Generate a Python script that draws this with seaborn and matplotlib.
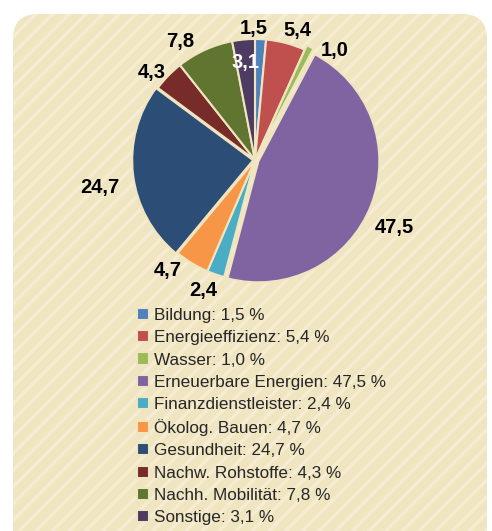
import matplotlib
matplotlib.use("Agg")
import numpy as np
import matplotlib.pyplot as plt
import seaborn as sns
from matplotlib.patches import FancyBboxPatch

# Daten
categories = ["Bildung", "Energieeffizienz", "Wasser", "Erneuerbare Energien",
              "Finanzdienstleister", "Ökolog. Bauen", "Gesundheit",
              "Nachw. Rohstoffe", "Nachh. Mobilität", "Sonstige"]
values = [1.5, 5.4, 1.0, 47.5, 2.4, 4.7, 24.7, 4.3, 7.8, 3.1]
value_labels = ["1,5", "5,4", "1,0", "47,5", "2,4", "4,7", "24,7", "4,3", "7,8", "3,1"]
colors = ["#4F81BD", "#C0504D", "#9BBB59", "#8064A2", "#4BACC6",
          "#F79646", "#2C4D75", "#772C2A", "#5F7530", "#4D3B62"]

# Layout / Stil
explode = [0, 0, 0.04, 0.03, 0, 0, 0.015, 0, 0, 0]
label_dist = [1.09, 1.13, 1.12, 1.28, 1.16, 1.16, 1.30, 1.12, 1.16, 0.81]
label_shift = [3, -3.5, -10, -4.7, -2.7, -6.8, 3.1, 4, 7.8, 0]  # Grad
beige = "#F0E5C1"

sns.set_theme(style="white")
plt.rcParams["font.family"] = ["Liberation Sans", "DejaVu Sans"]
plt.rcParams["hatch.linewidth"] = 2.5
palette = sns.color_palette(colors)

W, H = 492, 531
fig = plt.figure(figsize=(W / 100, H / 100), dpi=100)
fig.patch.set_facecolor("white")

# Hintergrund-Panel
bg = fig.add_axes([0, 0, 1, 1])
bg.set_xlim(0, W)
bg.set_ylim(0, H)
bg.axis("off")
bg.add_patch(FancyBboxPatch((13, -30), 474, 547, boxstyle="round,pad=0,rounding_size=25",
                            facecolor=beige, edgecolor="none"))
bg.add_patch(FancyBboxPatch((13, -30), 474, 547, boxstyle="round,pad=0,rounding_size=25",
                            facecolor="none", edgecolor="#F5ECD1", linewidth=0, hatch="//"))

# Kreisdiagramm
cx, cy, R = 255, H - 160, 121
ax = fig.add_axes([(cx - R) / W, (cy - R) / H, 2 * R / W, 2 * R / H])
wedges, _ = ax.pie(values, colors=palette, startangle=90, counterclock=False,
                   explode=explode,
                   wedgeprops=dict(edgecolor=beige, linewidth=1.5))
ax.set_xlim(-1, 1)
ax.set_ylim(-1, 1)
ax.set_aspect("equal")

for w, lab, d, sh in zip(wedges, value_labels, label_dist, label_shift):
    ang = np.deg2rad((w.theta1 + w.theta2) / 2 + sh)
    col = "white" if lab == "3,1" else "black"
    ax.text(d * np.cos(ang), d * np.sin(ang), lab,
            ha="center", va="center", fontsize=14.5, fontweight="bold", color=col)

# Legende
legend_labels = [f"{c}: {lab} %" for c, lab in zip(categories, value_labels)]
fig.legend(wedges, legend_labels, loc="upper left", bbox_to_anchor=(137 / W, 1 - 308 / H),
           frameon=False, fontsize=12.3, labelspacing=0.42, handlelength=0.72,
           handleheight=0.72, handletextpad=0.25, borderpad=0, borderaxespad=0)

fig.savefig("out.png", dpi=100)
